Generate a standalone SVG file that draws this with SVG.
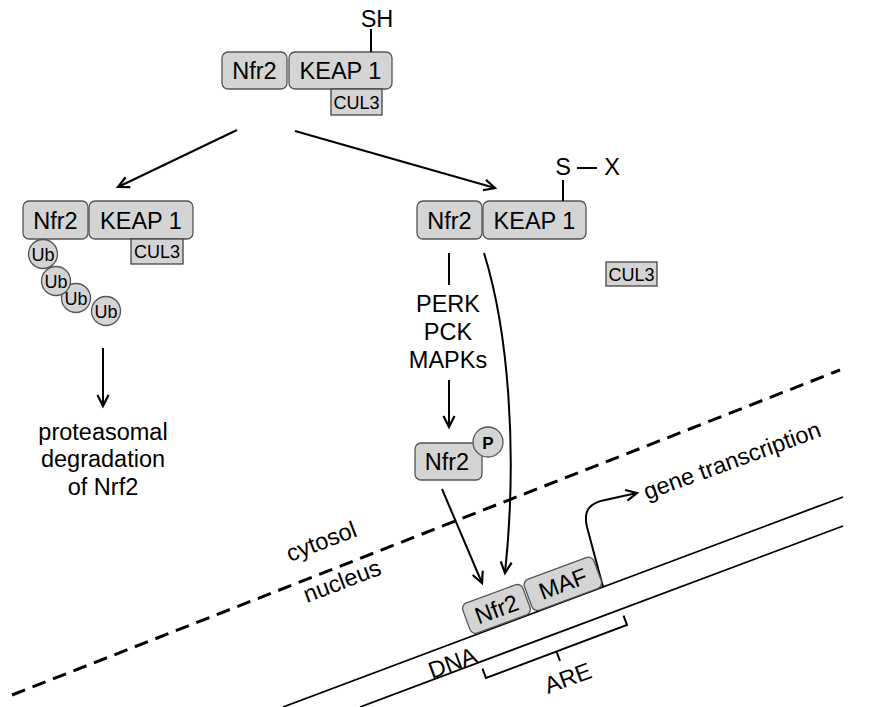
<svg xmlns="http://www.w3.org/2000/svg" width="875" height="707" viewBox="0 0 875 707">
<defs>
<marker id="arr" markerUnits="userSpaceOnUse" markerWidth="16" markerHeight="16" viewBox="0 0 16 16" refX="13" refY="8" orient="auto">
<path d="M2,2.5 L13,8 L2,13.5" fill="none" stroke="#000" stroke-width="2.2" stroke-linejoin="miter"/>
</marker>
</defs>
<style>
.box{fill:#d4d4d4;stroke:#555;stroke-width:1.3}
.cul{fill:#d4d4d4;stroke:#444;stroke-width:1.3}
.ub{fill:#d4d4d4;stroke:#555;stroke-width:1.3}
text{font-family:"Liberation Sans",Arial,sans-serif;fill:#000}
.t{font-size:23.5px;text-anchor:middle}
.s{font-size:18px;text-anchor:middle}
.u{font-size:18px;text-anchor:middle}
.r{font-size:23.5px}
.ln{stroke:#000;stroke-width:2;fill:none}
</style>
<rect width="875" height="707" fill="#fff"/>

<g id="connectors">
<line class="ln" x1="237" y1="130" x2="118" y2="187" marker-end="url(#arr)"/>
<line class="ln" x1="295" y1="131" x2="495" y2="188" marker-end="url(#arr)"/>
<line class="ln" x1="103" y1="348" x2="103" y2="406" marker-end="url(#arr)"/>
<line class="ln" x1="449" y1="253" x2="449" y2="285"/>
<line class="ln" x1="449" y1="380" x2="449" y2="427" marker-end="url(#arr)"/>
<line class="ln" x1="442" y1="489" x2="482" y2="583" marker-end="url(#arr)"/>
<path class="ln" d="M484,253 C508,330 518,450 505,573" marker-end="url(#arr)"/>
<path class="ln" d="M603,587 L587,527 C583,510 590,503 605,500 L637,493" marker-end="url(#arr)"/>
</g>

<g id="membrane">
<line x1="12" y1="695" x2="840" y2="370" stroke="#000" stroke-width="3" stroke-dasharray="14 8"/>
<text class="r" x="290" y="562" transform="rotate(-21 290 562)">cytosol</text>
<text class="r" x="307" y="603" transform="rotate(-21 307 603)">nucleus</text>
</g>

<g id="dna">
<line x1="283" y1="707" x2="843" y2="497" stroke="#000" stroke-width="1.8"/>
<line x1="360" y1="707" x2="843" y2="526" stroke="#000" stroke-width="1.8"/>
<text class="r" x="432" y="679" transform="rotate(-20.3 432 679)">DNA</text>
</g>

<g id="are">
<path d="M482.5,668.6 L486,678 L627,625 L623.5,615.6 M556.5,651.5 L560,661" fill="none" stroke="#000" stroke-width="2"/>
<text class="r" x="548" y="694" transform="rotate(-20.3 548 694)">ARE</text>
</g>

<g id="top-complex">
<rect class="box" x="222" y="52" width="65" height="37" rx="6"/>
<text class="t" x="254.5" y="79">Nfr2</text>
<rect class="box" x="289" y="52" width="103" height="37" rx="6"/>
<text class="t" x="340.5" y="79">KEAP 1</text>
<rect class="cul" x="331" y="89" width="51" height="26"/>
<text class="s" x="356.5" y="108.5">CUL3</text>
<line class="ln" x1="371" y1="29" x2="371" y2="52"/>
<text class="t" x="377" y="27">SH</text>
</g>

<g id="left-complex">
<rect class="box" x="23" y="201" width="65" height="38" rx="6"/>
<text class="t" x="55.5" y="228.5">Nfr2</text>
<rect class="box" x="89" y="201" width="104" height="38" rx="6"/>
<text class="t" x="141" y="228.5">KEAP 1</text>
<rect class="cul" x="131" y="239" width="52" height="25"/>
<text class="s" x="157" y="258">CUL3</text>
</g>

<g id="ubiquitin">
<circle class="ub" cx="106" cy="311" r="14.5"/>
<text class="u" x="106" y="317.5">Ub</text>
<circle class="ub" cx="76" cy="298" r="14.5"/>
<text class="u" x="76" y="304.5">Ub</text>
<circle class="ub" cx="56" cy="281" r="14.5"/>
<text class="u" x="56" y="287.5">Ub</text>
<circle class="ub" cx="43" cy="254" r="14.5"/>
<text class="u" x="43" y="260.5">Ub</text>
</g>

<g id="degradation">
<text class="t" x="103" y="440">proteasomal</text>
<text class="t" x="103" y="467">degradation</text>
<text class="t" x="103" y="495">of Nrf2</text>
</g>

<g id="right-complex">
<rect class="box" x="417" y="201" width="65" height="38" rx="6"/>
<text class="t" x="449.5" y="228.5">Nfr2</text>
<rect class="box" x="483" y="201" width="103" height="38" rx="6"/>
<text class="t" x="534.5" y="228.5">KEAP 1</text>
<line class="ln" x1="563" y1="180" x2="563" y2="201"/>
<text class="t" x="563" y="175">S</text>
<line class="ln" x1="577" y1="168" x2="597" y2="168"/>
<text class="t" x="612" y="175">X</text>
</g>

<g id="free-cul3">
<rect class="cul" x="606" y="262" width="51" height="24"/>
<text class="s" x="631.5" y="280.5">CUL3</text>
</g>

<g id="kinases">
<text class="t" x="448" y="312">PERK</text>
<text class="t" x="448" y="340">PCK</text>
<text class="t" x="448" y="368">MAPKs</text>
</g>

<g id="nfr2-p">
<rect class="box" x="415" y="443" width="67" height="37" rx="6"/>
<text class="t" x="447" y="470">Nfr2</text>
<circle class="ub" cx="488" cy="442" r="15"/>
<text x="488" y="448.5" font-size="17" font-weight="bold" text-anchor="middle">P</text>
</g>

<g id="nfr2-maf" transform="translate(472,635) rotate(-20.3)">
<rect class="box" x="0" y="-32" width="64" height="32" rx="6"/>
<text class="t" x="32" y="-7.5">Nfr2</text>
<rect class="box" x="66" y="-33" width="74" height="33" rx="6"/>
<text class="t" x="103" y="-8.5">MAF</text>
</g>

<g id="gene-transcription">
<text class="r" x="647" y="500" transform="rotate(-20 647 500)">gene transcription</text>
</g>
</svg>
